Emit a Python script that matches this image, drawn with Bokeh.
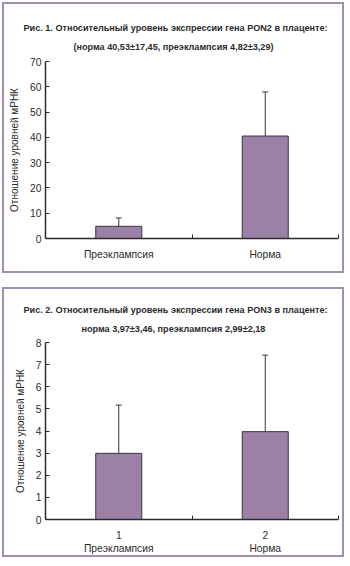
from bokeh.plotting import figure
from bokeh.models import (ColumnDataSource, Whisker, TeeHead, FixedTicker, Title, Range1d)
from bokeh.layouts import column
from bokeh.embed import file_html
from bokeh.resources import INLINE
import numpy as np

categories = ["Преэклампсия", "Норма"]
category_numbers = ["1", "2"]
pon2_mean = [4.82, 40.53]
pon2_sd = [3.29, 17.45]
pon3_mean = [2.99, 3.97]
pon3_sd = [2.18, 3.46]

title1 = ["Рис. 1. Относительный уровень экспрессии гена PON2 в плаценте:",
          "(норма 40,53±17,45,  преэклампсия 4,82±3,29)"]
title2 = ["Рис. 2. Относительный уровень экспрессии гена PON3 в плаценте:",
          "норма 3,97±3,46,  преэклампсия 2,99±2,18"]
ylabel = "Отношение уровней мРНК"

BAR = "#9b80a8"
BAR_LINE = "#3d3340"
AXIS = "#2e2a2a"
TEXT = "#2b2b2b"
BORDER = "#a08db0"
TITLE_FONT = "Liberation Sans"
FONT = "Liberation Sans"


def make(title_lines, offsets, means, sds, ymax, yticks, xlabels, h, mtop, mbot, margin, st2, st1):
    x = np.arange(len(means)) + 0.5
    src = ColumnDataSource(dict(
        x=x, top=means,
        upper=np.array(means) + np.array(sds),
        lower=np.array(means) - np.array(sds)))
    p = figure(width=342, height=h, output_backend="svg", toolbar_location=None,
               x_range=Range1d(0, len(means)), y_range=Range1d(0, ymax),
               min_border_left=41, min_border_right=8,
               min_border_top=mtop, min_border_bottom=mbot)
    p.margin = margin
    p.styles = {"border": f"2px solid {BORDER}"}
    p.outline_line_color = None
    p.grid.visible = False
    p.background_fill_color = "white"
    p.border_fill_color = "white"

    p.vbar(x="x", top="top", width=0.314, bottom=0, source=src,
           fill_color=BAR, line_color=BAR_LINE, line_width=1)
    w = Whisker(base="x", upper="upper", lower="lower", source=src,
                line_color=BAR_LINE, line_width=1,
                upper_head=TeeHead(size=6, line_color=BAR_LINE, line_width=1),
                lower_head=TeeHead(size=6, line_color=BAR_LINE, line_width=1))
    p.add_layout(w)

    t2 = Title(text=title_lines[1], align="left", text_font=TITLE_FONT,
               text_font_size="9.1px", text_font_style="bold", text_color=TEXT,
               standoff=st2, offset=offsets[1])
    t1 = Title(text=title_lines[0], align="left", text_font=TITLE_FONT,
               text_font_size="9.1px", text_font_style="bold", text_color=TEXT,
               standoff=st1, offset=offsets[0])
    p.add_layout(t2, "above")
    p.add_layout(t1, "above")

    xa = p.xaxis[0]
    xa.ticker = FixedTicker(ticks=list(x), minor_ticks=list(range(len(means) + 1)))
    xa.major_label_overrides = {float(xi): lab for xi, lab in zip(x, xlabels)}
    xa.major_tick_line_color = None
    xa.minor_tick_in = 4
    xa.minor_tick_out = 0
    xa.minor_tick_line_color = AXIS
    xa.axis_line_color = AXIS
    xa.axis_line_width = 1.5
    xa.major_label_text_font = FONT
    xa.major_label_text_font_size = "10.3px"
    xa.major_label_text_color = TEXT
    xa.major_label_standoff = 4

    ya = p.yaxis[0]
    ya.ticker = FixedTicker(ticks=yticks)
    ya.minor_tick_line_color = None
    ya.major_tick_in = 4
    ya.major_tick_out = 0
    ya.major_tick_line_color = AXIS
    ya.axis_line_color = AXIS
    ya.axis_line_width = 1.5
    ya.major_label_text_font = FONT
    ya.major_label_text_font_size = "10.3px"
    ya.major_label_text_color = TEXT
    ya.major_label_standoff = 4
    ya.axis_label = ylabel
    ya.axis_label_text_font = FONT
    ya.axis_label_text_font_size = "10px"
    ya.axis_label_text_font_style = "normal"
    ya.axis_label_text_color = TEXT
    ya.axis_label_standoff = 7
    return p


p1 = make(title1, (-22, 28), pon2_mean, pon2_sd, 70, list(range(0, 71, 10)), categories,
          271, 57, 37, (2, 0, 0, 2), 19, -5)
labels2 = [f"{n}\n{c}" for n, c in zip(category_numbers, categories)]
p2 = make(title2, (-22, 36), pon3_mean, pon3_sd, 8, list(range(0, 9)), labels2,
          270, 53, 40, (14, 0, 0, 2), 18, -4)

layout = column(p1, p2, spacing=0)
open("out.html", "w").write(file_html(layout, INLINE))
